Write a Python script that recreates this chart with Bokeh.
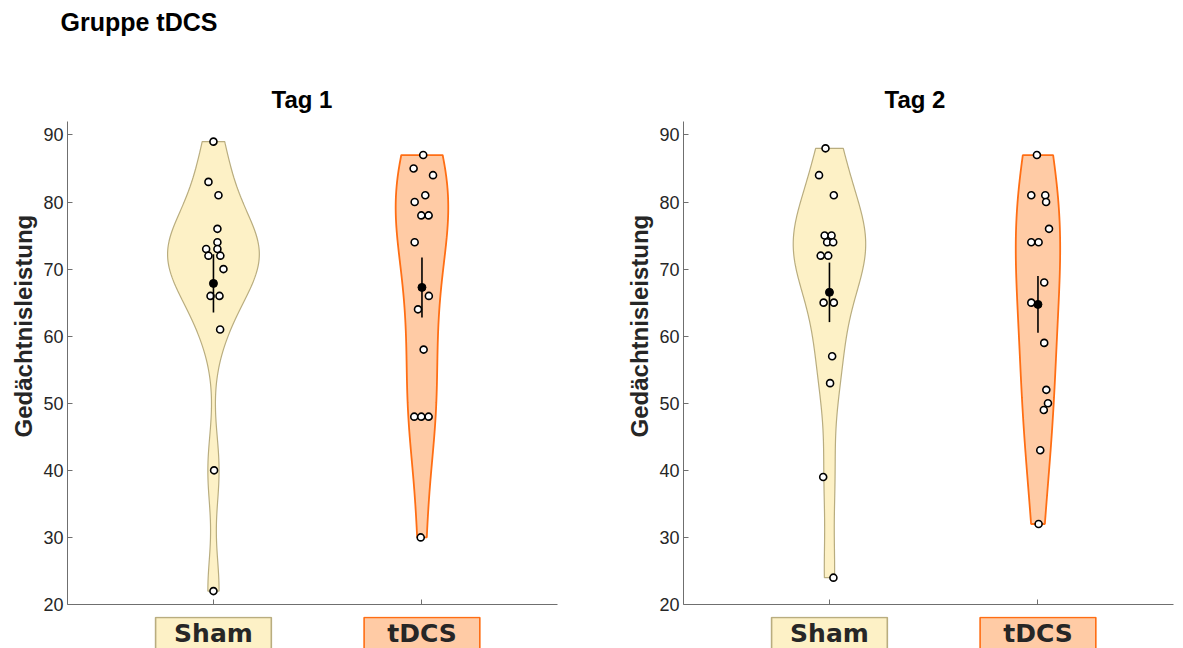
import numpy as np
from bokeh.plotting import figure
from bokeh.models import Range1d, FixedTicker, Title, ColumnDataSource
from bokeh.layouts import row, column
from bokeh.core.properties import value
from bokeh.embed import file_html
from bokeh.resources import INLINE

# ---------------- data ----------------
suptitle = "Gruppe tDCS"
y_title = "Gedächtnisleistung"
groups = ["Sham", "tDCS"]
days = ["Tag 1", "Tag 2"]
y_ticks = [20, 30, 40, 50, 60, 70, 80, 90]

tag1_sham = [89, 83, 81, 76, 74, 73, 73, 72, 72, 70, 66, 66, 61, 40, 22]
tag1_tdcs = [87, 85, 84, 81, 80, 78, 78, 74, 66, 64, 58, 48, 48, 48, 30]
tag2_sham = [88, 84, 81, 75, 75, 74, 74, 72, 72, 65, 65, 57, 53, 39, 24]
tag2_tdcs = [87, 81, 81, 80, 76, 74, 74, 68, 65, 59, 52, 50, 49, 43, 32]

# horizontal jitter of the single points (category units)
jit1_sham = [0.0, -0.024, 0.024, 0.019, 0.019, -0.035, 0.019, -0.024, 0.033, 0.048, -0.014, 0.029, 0.032, 0.003, 0.0]
jit1_tdcs = [0.006, -0.040, 0.053, 0.016, -0.035, -0.003, 0.032, -0.035, 0.033, -0.019, 0.008, -0.037, -0.003, 0.032, -0.006]
jit2_sham = [-0.019, -0.050, 0.021, -0.023, 0.010, -0.011, 0.018, -0.042, -0.006, -0.028, 0.021, 0.013, 0.003, -0.030, 0.019]
jit2_tdcs = [-0.005, -0.032, 0.035, 0.039, 0.053, -0.032, 0.003, 0.030, -0.032, 0.030, 0.040, 0.048, 0.028, 0.011, 0.003]

# ---------------- styles ----------------
FILL = {"Sham": "#FDF1C6", "tDCS": "#FFCBA5"}
EDGE = {"Sham": "#B9AD7F", "tDCS": "#FF6E14"}
EDGE_W = {"Sham": 1.2, "tDCS": 1.8}
TXT = "#262626"
AX = "#6f6f6f"
VIOLIN_MAX_HALF_WIDTH = 0.22
TOP_H = 40
STRIP_H = 32
MAIN_H = 648 - TOP_H - STRIP_H
YL_W = 40


def kde(values):
    x = np.asarray(values, float)
    n = len(x)
    sig = np.median(np.abs(x - np.median(x))) / 0.6745
    bw = sig * (4.0 / (3.0 * n)) ** 0.2
    grid = np.linspace(x.min(), x.max(), 200)
    dens = np.exp(-0.5 * ((grid[:, None] - x[None, :]) / bw) ** 2).sum(axis=1) / (n * bw * np.sqrt(2 * np.pi))
    return grid, dens


all_sets = [tag1_sham, tag1_tdcs, tag2_sham, tag2_tdcs]
global_max = max(kde(s)[1].max() for s in all_sets)
SCALE = VIOLIN_MAX_HALF_WIDTH / global_max


def blank(width, height):
    f = figure(width=width, height=height, x_range=Range1d(0, width), y_range=Range1d(0, height),
               output_backend="svg", toolbar_location=None, title=None,
               x_axis_type=None, y_axis_type=None,
               min_border_left=0, min_border_right=0, min_border_top=0, min_border_bottom=0)
    f.outline_line_color = None
    f.grid.visible = False
    return f


def make_panel(day, sham, tdcs, jit_s, jit_t, width, mb_right, title_offset):
    # narrow strip with the y-axis title
    yl = blank(YL_W, MAIN_H)
    yl.text(x=[23], y=[MAIN_H - 244], text=[y_title], angle=np.pi / 2, text_align="center",
            text_baseline="middle", text_font=value("Liberation Sans"), text_font_style="bold",
            text_font_size=value("24px"), text_color=TXT)

    xr = Range1d(0.3, 2.65)
    p = figure(width=width - YL_W, height=MAIN_H, x_range=xr, y_range=Range1d(20, 92),
               output_backend="svg", toolbar_location=None, title=None,
               min_border_left=67 - YL_W, min_border_right=mb_right, min_border_top=121 - TOP_H,
               min_border_bottom=MAIN_H + TOP_H - 604)
    p.add_layout(Title(text=day, align="left", offset=title_offset, text_font="Liberation Sans",
                       text_font_size="24px", text_font_style="bold", text_color="#000000",
                       standoff=17), "above")
    p.outline_line_color = None
    p.grid.visible = False

    for i, (g, vals, jit) in enumerate(zip(groups, [sham, tdcs], [jit_s, jit_t])):
        pos = i + 1
        grid, dens = kde(vals)
        w = dens * SCALE
        xs = np.concatenate([pos + w, (pos - w)[::-1]])
        ys = np.concatenate([grid, grid[::-1]])
        p.patch(xs, ys, fill_color=FILL[g], line_color=EDGE[g], line_width=EDGE_W[g])

        src = ColumnDataSource(dict(x=pos + np.asarray(jit), y=vals))
        p.scatter("x", "y", source=src, size=7, fill_color="white", line_color="black", line_width=1.6)

        arr = np.asarray(vals, float)
        m = arr.mean()
        sem = arr.std(ddof=1) / np.sqrt(len(arr))
        p.segment(x0=[pos], y0=[m - sem], x1=[pos], y1=[m + sem], line_color="black", line_width=1.6)
        p.scatter([pos], [m], size=8, fill_color="black", line_color="black")

    p.yaxis.ticker = FixedTicker(ticks=y_ticks)
    p.xaxis.ticker = FixedTicker(ticks=[1, 2])
    p.xaxis.major_label_overrides = {1: "", 2: ""}
    p.xaxis.major_label_text_font_size = "1px"
    p.xaxis.major_label_standoff = 0
    for ax in (p.xaxis, p.yaxis):
        ax.axis_line_color = AX
        ax.axis_line_width = 1
        ax.major_tick_line_color = AX
        ax.major_tick_in = 5
        ax.major_tick_out = 0
        ax.minor_tick_line_color = None
    p.yaxis.major_label_text_font = "Liberation Sans"
    p.yaxis.major_label_text_font_size = "18px"
    p.yaxis.major_label_text_color = TXT
    p.yaxis.major_label_standoff = 4

    # strip below the axis holding the boxed category labels
    s = figure(width=width, height=STRIP_H, x_range=xr, y_range=Range1d(0, STRIP_H),
               output_backend="svg", toolbar_location=None, title=None,
               x_axis_type=None, y_axis_type=None,
               min_border_left=67, min_border_right=mb_right, min_border_top=0, min_border_bottom=0)
    s.outline_line_color = None
    s.grid.visible = False
    pos = [1, 2]
    s.rect(x=pos, y=[STRIP_H / 2 - 6, STRIP_H / 2 - 6], width=0.555, height=STRIP_H + 10,
           fill_color=[FILL[g] for g in groups], line_color=[EDGE[g] for g in groups], line_width=1.6)
    s.text(x=pos, y=[STRIP_H - 2, STRIP_H - 2], text=groups, text_align="center", text_baseline="top",
           text_font=value("DejaVu Sans"), text_font_style="bold", text_font_size=value("25px"),
           text_color=TXT)
    return yl, p, s


# top strip holding the overall title
top = blank(1183, TOP_H)
top.text(x=[60], y=[TOP_H - 7], text=[suptitle], text_align="left", text_baseline="top",
         text_font=value("Liberation Sans"), text_font_style="bold", text_font_size=value("25px"),
         text_color="#000000")

yl1, p1, s1 = make_panel(days[0], tag1_sham, tag1_tdcs, jit1_sham, jit1_tdcs, 616, 59, 204)
yl2, p2, s2 = make_panel(days[1], tag2_sham, tag2_tdcs, jit2_sham, jit2_tdcs, 567, 10, 201)

layout = column(top, row(yl1, p1, yl2, p2), row(s1, s2))
open("out.html", "w").write(file_html(layout, INLINE))
